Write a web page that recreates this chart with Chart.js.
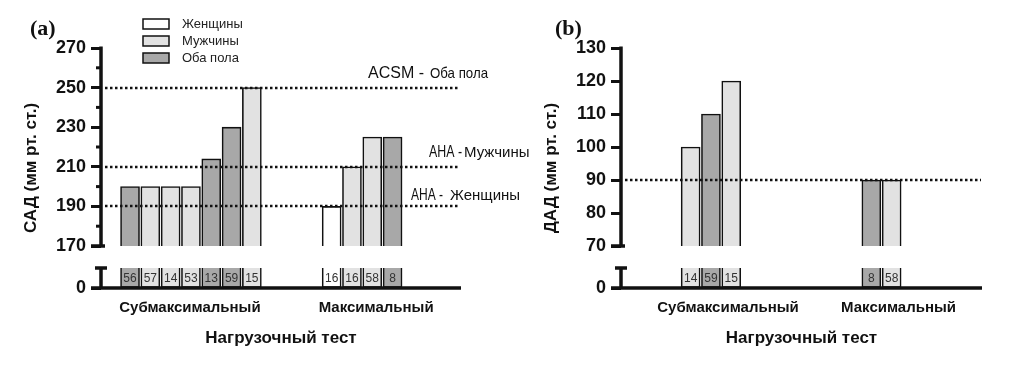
<!DOCTYPE html>
<html>
<head>
<meta charset="utf-8">
<script src="https://cdn.jsdelivr.net/npm/chart.js@4.4.0/dist/chart.umd.min.js"></script>
<style>
  html, body { margin: 0; padding: 0; background: #fff; }
  #wrap { position: relative; width: 1024px; height: 367px; }
  canvas { position: absolute; top: 0; }
  #chartA { left: 0; }
  #chartB { left: 540px; }
</style>
</head>
<body>
<div id="wrap">
  <canvas id="chartA" width="540" height="367"></canvas>
  <canvas id="chartB" width="484" height="367"></canvas>
</div>
<script>
// Категории
const groups = ['Субмаксимальный', 'Максимальный'];
const sexes = ['Женщины', 'Мужчины', 'Оба пола'];

// (a) САД
const sbpGroup  = [0, 0, 0, 0, 0, 0, 0, 1, 1, 1, 1];
const sbpSex    = [2, 1, 1, 1, 2, 2, 1, 0, 1, 1, 2];
const sbpValues = [200, 200, 200, 200, 214, 230, 250, 190, 210, 225, 225];
const sbpN      = [56, 57, 14, 53, 13, 59, 15, 16, 16, 58, 8];
const sbpTicks  = [170, 190, 210, 230, 250, 270];
const sbpMinor  = [180, 200, 220, 240, 260];
const sbpLimits = [250, 210, 190];
const sbpLimitNames  = ['ACSM -', 'AHA -', 'AHA -'];
const sbpLimitGroups = ['Оба пола', 'Мужчины', 'Женщины'];

// (b) ДАД
const dbpGroup  = [0, 0, 0, 1, 1];
const dbpSex    = [1, 2, 1, 2, 1];
const dbpValues = [100, 110, 120, 90, 90];
const dbpN      = [14, 59, 15, 8, 58];
const dbpTicks  = [70, 80, 90, 100, 110, 120, 130];
const dbpLimits = [90];

// Оформление
const fillColors = ['#ffffff', '#e2e2e2', '#a8a8a8'];
const INK = '#111';
const FONT = "'Liberation Sans', Arial, sans-serif";
const LOWER_MAX = 42;   // нижний кусок разорванной оси
const STUB = 20;        // высота столбиков в нижнем куске

const drawExtras = (chart, p) => {
    const { ctx, chartArea: ca, scales } = chart;
    const y = scales.y, y2 = scales.y2;
    const ax = ca.left;
    ctx.save();

    // пунктирные пороги
    ctx.strokeStyle = INK;
    ctx.lineWidth = 2.5;
    ctx.setLineDash([2.5, 2.5]);
    p.limits.forEach(v => {
        const py = Math.round(y.getPixelForValue(v));
        ctx.beginPath();
        ctx.moveTo(ax + 4, py);
        ctx.lineTo(ca.right - 1, py);
        ctx.stroke();
    });
    ctx.setLineDash([]);

    // подписи порогов
    if (p.limitNames) {
        ctx.fillStyle = INK;
        ctx.textBaseline = 'middle';
        ctx.textAlign = 'left';
        p.limits.forEach((v, i) => {
            const py = y.getPixelForValue(v) + p.limitDy[i];
            ctx.font = '16px ' + FONT;
            ctx.fillText(p.limitNames[i], p.limitNameX[i], py, p.limitNameW[i]);
            ctx.font = '15px ' + FONT;
            ctx.fillText(p.limitGroups[i], p.limitGroupX[i], py, p.limitGroupW[i]);
        });
    }

    // число наблюдений в нижних столбиках
    ctx.fillStyle = '#333';
    ctx.font = '12px ' + FONT;
    ctx.textAlign = 'center';
    ctx.textBaseline = 'middle';
    chart.getDatasetMeta(1).data.forEach((bar, i) => {
        ctx.fillText(String(p.n[i]), bar.x, (bar.y + bar.base) / 2 + 1);
    });

    // оси
    ctx.strokeStyle = INK;
    ctx.lineWidth = 3.5;
    const seg = (x1, y1, x2, y2_) => {
        ctx.beginPath(); ctx.moveTo(x1, y1); ctx.lineTo(x2, y2_); ctx.stroke();
    };
    const yTop = y.getPixelForValue(p.ticks[p.ticks.length - 1]);
    const yBot = y.getPixelForValue(p.ticks[0]);
    const sTop = y2.getPixelForValue(STUB);
    const zero = y2.getPixelForValue(0);
    seg(ax, yTop - 1.5, ax, yBot);
    seg(ax, sTop, ax, zero);
    seg(ax - 10, yBot, ax + 4, yBot);
    seg(ax - 6, sTop, ax + 6, sTop);
    seg(ax - 10, zero, ca.right, zero);
    ctx.lineWidth = 3;
    (p.minor || []).forEach(v => {
        const py = y.getPixelForValue(v);
        seg(ax - 5, py, ax, py);
    });

    // подпись оси Y
    ctx.save();
    ctx.translate(p.yTitleX, (ca.top + ca.bottom) / 2);
    ctx.rotate(-Math.PI / 2);
    ctx.fillStyle = INK;
    ctx.font = 'bold 17px ' + FONT;
    ctx.textAlign = 'center';
    ctx.textBaseline = 'middle';
    ctx.fillText(p.yTitle, 0, 0);
    ctx.restore();

    // (a) / (b)
    ctx.fillStyle = INK;
    ctx.font = "bold 22px 'Liberation Serif', 'Times New Roman', serif";
    ctx.textAlign = 'left';
    ctx.textBaseline = 'middle';
    ctx.fillText(p.tag, p.tagX, 29);

    // легенда
    if (p.legend) {
        sexes.forEach((s, i) => {
            const top = 19 + i * 17;
            ctx.fillStyle = fillColors[i];
            ctx.fillRect(143, top, 26, 10);
            ctx.strokeStyle = INK;
            ctx.lineWidth = 1.5;
            ctx.strokeRect(143, top, 26, 10);
            ctx.fillStyle = '#222';
            ctx.font = '13px ' + FONT;
            ctx.fillText(s, 182, top + 5);
        });
    }
    ctx.restore();
};

const makePanel = (id, p) => {
    // положение столбика: центр группы + номер внутри группы
    const counts = groups.map((g, gi) => p.group.filter(v => v === gi).length);
    const seen = groups.map(() => 0);
    const xs = p.group.map(g => {
        const k = seen[g]++;
        return p.groupCenter[g] + k - (counts[g] - 1) / 2;
    });
    const colors = p.sex.map(s => fillColors[s]);
    const upper = p.values.map((v, i) => ({ x: xs[i], y: [p.ticks[0], v] }));
    const lower = p.n.map((n, i) => ({ x: xs[i], y: [0, STUB] }));

    const barStyle = {
        backgroundColor: colors,
        borderColor: INK,
        borderWidth: 1.6,
        barThickness: 19,
        grouped: false
    };
    const yTicks = { autoSkip: false, color: INK, padding: 5, font: { family: FONT, size: 18, weight: 'bold' } };
    const yGrid = { display: true, drawOnChartArea: false, drawTicks: true, tickLength: 10, tickWidth: 3, tickColor: INK };

    new Chart(document.getElementById(id), {
        type: 'bar',
        data: {
            datasets: [
                Object.assign({ data: upper, yAxisID: 'y', borderSkipped: 'start' }, barStyle),
                Object.assign({ data: lower, yAxisID: 'y2', borderSkipped: 'end' }, barStyle)
            ]
        },
        options: {
            responsive: false,
            animation: false,
            devicePixelRatio: 1,
            layout: { padding: { left: 0, right: p.padRight, top: 48, bottom: 0 } },
            plugins: { legend: { display: false }, tooltip: { enabled: false } },
            scales: {
                x: {
                    type: 'linear',
                    min: 0,
                    max: p.xMax,
                    offset: false,
                    grid: { display: false, offset: false },
                    border: { display: false },
                    afterFit: s => { s.height = 79; },
                    afterBuildTicks: s => { s.ticks = p.labelPos.map(v => ({ value: v })); },
                    ticks: {
                        autoSkip: false,
                        maxRotation: 0,
                        padding: 3,
                        color: INK,
                        font: { family: FONT, size: 15, weight: 'bold' },
                        callback: (v, i) => groups[i]
                    },
                    title: {
                        display: true,
                        text: 'Нагрузочный тест',
                        color: INK,
                        font: { family: FONT, size: 17, weight: 'bold' },
                        padding: { top: 0, bottom: 18 }
                    }
                },
                y2: {
                    type: 'linear',
                    position: 'left',
                    stack: 'left',
                    stackWeight: 42,
                    weight: 0,
                    min: 0,
                    max: LOWER_MAX,
                    afterFit: s => { s.width = p.axisLeft; },
                    afterBuildTicks: s => { s.ticks = [{ value: 0 }]; },
                    ticks: yTicks,
                    grid: yGrid,
                    border: { display: false }
                },
                y: {
                    type: 'linear',
                    position: 'left',
                    stack: 'left',
                    stackWeight: 198,
                    weight: 1,
                    min: p.ticks[0],
                    max: p.ticks[p.ticks.length - 1],
                    afterFit: s => { s.width = p.axisLeft; },
                    afterBuildTicks: s => { s.ticks = p.ticks.map(v => ({ value: v })); },
                    ticks: yTicks,
                    grid: yGrid,
                    border: { display: false }
                }
            }
        },
        plugins: [{ id: 'extras', afterDraw: chart => drawExtras(chart, p) }]
    });
};

makePanel('chartA', {
    group: sbpGroup, sex: sbpSex, values: sbpValues, n: sbpN,
    ticks: sbpTicks, minor: sbpMinor, limits: sbpLimits,
    limitNames: sbpLimitNames, limitGroups: sbpLimitGroups,
    limitNameX: [368, 429, 411], limitNameW: [59, 33, 32],
    limitGroupX: [430, 464, 450], limitGroupW: [58, 68, 73],
    limitDy: [-14, -14, -11],
    groupCenter: [4.43, 12.86], labelPos: [4.38, 13.55], xMax: 17.73,
    axisLeft: 101, padRight: 79,
    yTitle: 'САД (мм рт. ст.)', yTitleX: 31, tag: '(a)', tagX: 30, legend: true
});

makePanel('chartB', {
    group: dbpGroup, sex: dbpSex, values: dbpValues, n: dbpN,
    ticks: dbpTicks, minor: null, limits: dbpLimits,
    groupCenter: [4.43, 12.83], labelPos: [5.27, 13.67], xMax: 17.78,
    axisLeft: 81, padRight: 42,
    yTitle: 'ДАД (мм рт. ст.)', yTitleX: 11, tag: '(b)', tagX: 15, legend: false
});
</script>
</body>
</html>
